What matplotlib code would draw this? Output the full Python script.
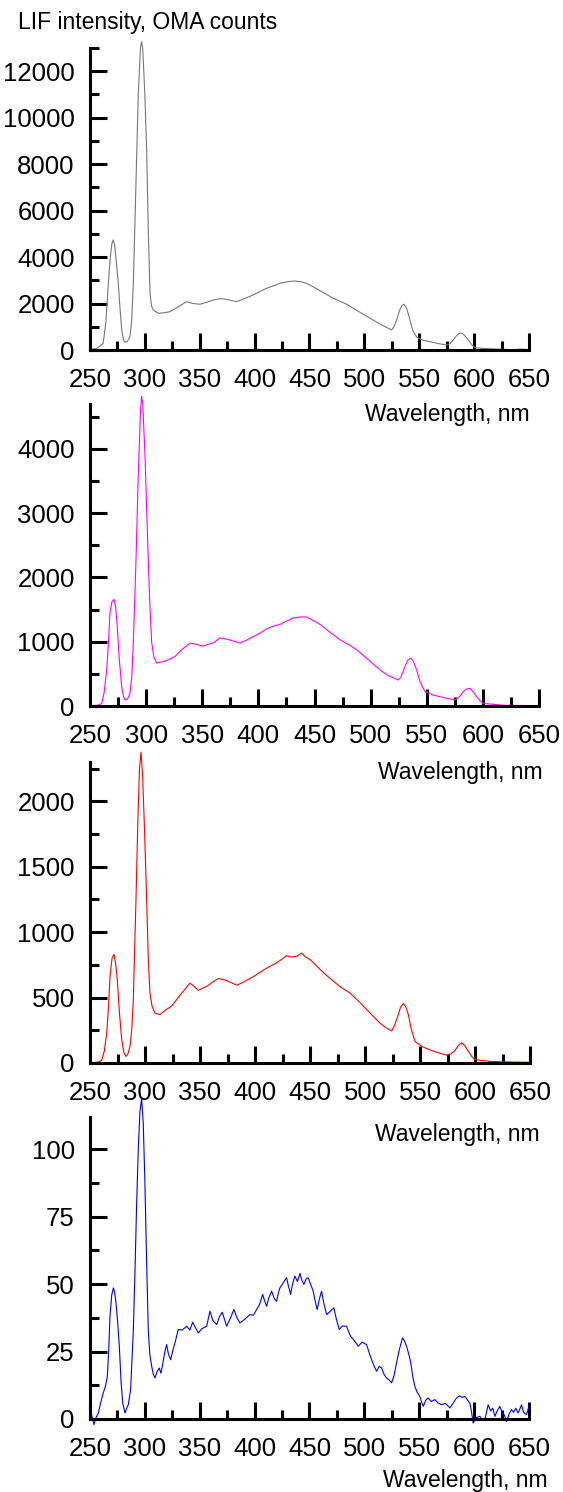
import numpy as np
import matplotlib.pyplot as plt
from matplotlib.ticker import MultipleLocator

plt.rcParams['font.family'] = ['Liberation Sans', 'DejaVu Sans']

# ------------------------------------------------------------
# spectra (wavelength nm, counts)
# ------------------------------------------------------------
wl_gray = [250, 256, 262, 264.5, 266.7, 268.5, 270, 271.2, 272.5, 274, 275.8, 277.5,
           278.9, 280.5, 281.9, 284, 286.4, 288, 289.5, 291.9, 294, 296, 297, 298,
           300, 301.6, 303.2, 304.7, 306, 307.7, 312.2, 317, 322.9, 330, 338.1, 344,
           350.2, 356, 362.4, 367, 371.5, 377, 383.6, 390, 398.8, 405, 411, 417,
           423.1, 430, 436.8, 442, 447.4, 455, 462.6, 472, 483.9, 494, 505.1, 515,
           524.9, 527, 529.4, 532, 534, 536.1, 538.5, 541.6, 544, 547.7, 553, 559.8,
           567, 575, 578, 581, 584, 586.5, 588.6, 591, 594.7, 598, 600.8, 607,
           614.5, 625, 635.7, 642, 650]
cnt_gray = [30, 60, 290, 1200, 2870, 4000, 4600, 4740, 4500, 3800, 2870, 1700,
            860, 450, 330, 370, 575, 1300, 2870, 7200, 11000, 13000, 13270, 13000,
            11000, 8620, 5000, 2440, 1900, 1720, 1580, 1600, 1650, 1850, 2080, 2000,
            1970, 2050, 2150, 2200, 2200, 2150, 2080, 2200, 2370, 2520, 2660, 2760,
            2870, 2940, 2970, 2940, 2870, 2680, 2470, 2220, 1970, 1680, 1370, 1100,
            860, 1000, 1290, 1700, 1900, 1970, 1800, 1290, 850, 550, 430, 360,
            280, 215, 280, 430, 620, 720, 730, 640, 430, 220, 100, 70,
            55, 30, 10, 40, 20]

wl_mag = [250, 258, 260.4, 262.5, 264.9, 266.5, 267.8, 269.5, 271.4, 272.8, 274.3, 276,
          278.2, 279.8, 281.2, 283.5, 285.6, 287.2, 288.6, 291, 293, 295, 296, 297,
          299, 301.9, 303.5, 305, 307, 309.4, 312, 315.3, 320, 325.7, 332, 339.1,
          345, 350.9, 355, 359.8, 365.8, 372, 378, 383.6, 390, 395.5, 401, 407.4,
          413, 419.3, 425, 431.1, 437, 443.1, 449, 454.9, 463, 472.7, 480, 487.6,
          498, 508.4, 516, 524.7, 527, 530.6, 533, 535.7, 538, 541, 544, 548.4,
          555, 561.8, 568, 575.2, 579, 582.6, 585.5, 588.5, 591.5, 594.5, 597.5, 600.4,
          610, 620, 635, 650]
cnt_mag = [0, 15, 40, 200, 560, 1000, 1450, 1620, 1660, 1550, 1240, 750,
           300, 150, 95, 110, 200, 450, 980, 2280, 3600, 4600, 4820, 4700,
           3900, 2280, 1500, 980, 760, 670, 680, 690, 720, 770, 880, 980,
           960, 930, 960, 980, 1060, 1040, 1010, 980, 1030, 1080, 1130, 1200,
           1240, 1270, 1320, 1370, 1385, 1385, 1330, 1270, 1160, 1030, 960, 875,
           720, 560, 470, 405, 450, 615, 710, 745, 700, 560, 380, 225,
           175, 145, 120, 95, 140, 225, 265, 275, 220, 145, 80, 40,
           25, 10, 8, 5]

wl_red = [250, 258, 260.6, 263, 265.2, 266.8, 268.2, 270, 271.8, 273.3, 274.8, 276.8,
          278.8, 280.8, 282.7, 284.5, 286.4, 288, 289.4, 291.8, 293.5, 295, 296.4, 297.8,
          299.5, 301.5, 303, 304.5, 306.5, 309.1, 313.6, 318, 324.3, 332, 340.9, 344,
          348.5, 352, 356.1, 361, 366.7, 370, 374.3, 378, 383.4, 390, 398.5, 404,
          410.6, 415, 419.7, 424, 428.8, 433, 437.9, 442.4, 446, 450, 455, 459.1,
          465, 471.2, 478, 486.4, 492, 498.5, 506, 513.6, 519, 524.3, 527, 530.3,
          532.5, 534.8, 537, 539.4, 542, 545.5, 552, 559.1, 566, 574.3, 578, 581.8,
          585, 587.9, 591, 593.9, 597, 600, 613.6, 630, 650]
cnt_red = [0, 8, 20, 90, 230, 430, 660, 800, 830, 760, 640, 380,
           180, 80, 50, 70, 130, 260, 485, 1250, 1850, 2250, 2375, 2200,
           1800, 1250, 800, 535, 430, 380, 370, 400, 435, 520, 610, 590,
           555, 570, 585, 615, 645, 640, 630, 615, 595, 620, 660, 690,
           725, 745, 765, 790, 820, 810, 815, 840, 810, 790, 750, 715,
           670, 625, 580, 535, 490, 435, 370, 305, 270, 245, 290, 370,
           430, 455, 430, 370, 260, 165, 125, 100, 80, 60, 70, 95,
           135, 155, 130, 90, 50, 25, 12, 8, 5]

wl_blue = [250, 251.8, 253.6, 255.5, 257.6, 260, 262.1, 264, 265.8, 267, 268.2, 269.8,
           271.3, 272.5, 273.7, 275.2, 276.7, 278.3, 279.8, 281.9, 283.4, 284.9, 287, 289.5,
           291, 292.5, 294, 295.5, 297, 298.5, 300, 301.5, 303.1, 304.5, 306.2, 307.7,
           309.2, 311, 313.1, 314.6, 316.2, 318, 319.8, 321.5, 323.5, 325.5, 327.4, 330.4,
           334, 338.1, 341, 343.5, 346, 348.7, 352, 356.3, 359.3, 362, 365.4, 368,
           370.5, 372.5, 374.5, 378, 381.1, 384, 386.6, 391, 395.7, 399, 401.8, 404.5,
           407.3, 409, 410.9, 413, 415.5, 418, 420, 421.5, 423, 426, 429.1, 431,
           432.8, 434.5, 436.7, 439, 441.3, 443, 444.9, 447, 448.8, 451, 453.4, 455,
           457, 459, 461, 463, 465.6, 469, 472.2, 474.5, 477.1, 480, 483.8, 485.5,
           487.4, 491, 494.4, 498, 502, 504, 506.6, 509, 511.1, 513.5, 515.7, 518,
           520.2, 522.5, 524.8, 527, 529.3, 532, 534.8, 536.5, 538.4, 540.5, 542.3, 544,
           546, 548, 550.5, 552, 553.6, 556, 558.1, 561, 564.2, 567, 570.3, 574,
           577.9, 581, 584, 587, 589, 591.5, 594, 596.1, 597.5, 599.1, 602, 605.2,
           607.5, 609.7, 611, 612.8, 615, 617, 618.9, 621, 623.4, 626, 627.5, 629.5,
           632, 634.1, 636, 638, 640.1, 641.5, 643.2, 645, 647.7, 650]
cnt_blue = [3.5, 1.0, -2.1, 0.5, 2.2, 6.5, 9.7, 12.0, 15.8, 25.0, 38.0, 46.0,
            48.6, 47.0, 43.0, 36.0, 27.0, 14.0, 5.9, 2.2, 4.0, 5.3, 10.9, 33.0,
            55.0, 80.0, 100.0, 114.0, 118.8, 110.0, 88.0, 60.0, 33.0, 24.0, 19.6, 16.5,
            15.2, 17.5, 18.9, 17.0, 20.2, 24.5, 27.6, 24.0, 22.0, 25.5, 28.2, 33.2,
            33.0, 34.4, 33.0, 35.9, 34.0, 31.9, 33.5, 34.4, 40.0, 36.5, 35.0, 38.0,
            39.6, 37.0, 34.4, 37.5, 40.6, 37.5, 35.6, 37.0, 38.7, 38.5, 40.6, 42.5,
            46.2, 44.0, 41.8, 45.0, 47.4, 44.5, 43.7, 46.5, 48.6, 50.5, 52.4, 49.0,
            46.2, 50.0, 53.0, 51.0, 54.0, 51.5, 49.9, 52.0, 52.4, 50.0, 47.4, 44.0,
            40.6, 44.5, 47.4, 43.0, 38.7, 40.0, 41.2, 37.0, 33.2, 34.5, 34.4, 32.5,
            30.7, 29.0, 27.0, 28.5, 27.6, 25.0, 22.0, 19.5, 17.7, 19.5, 18.9, 16.5,
            15.2, 14.5, 13.4, 16.0, 20.8, 26.0, 30.1, 29.0, 27.0, 24.0, 20.8, 16.0,
            12.1, 10.0, 8.4, 6.5, 4.7, 7.0, 7.8, 6.5, 7.2, 6.0, 5.3, 5.8,
            4.1, 6.0, 7.8, 8.6, 8.0, 8.4, 7.0, 5.9, 3.0, -1.5, 0.5, 1.0,
            -0.5, -0.2, 2.0, 5.3, 3.0, 4.0, 1.0, 3.0, 4.7, 2.0, 1.5, -0.9,
            2.0, 3.5, 2.5, 4.0, 2.2, 3.5, 5.3, 2.5, 1.6, 4.7]

spectra = [(wl_gray, cnt_gray, '#777777'),
           (wl_mag, cnt_mag, '#ff00ff'),
           (wl_red, cnt_red, '#ff0000'),
           (wl_blue, cnt_blue, '#0000ff')]
y_top = [13000, 4700, 2300, 112]
y_major = [2000, 1000, 500, 25]

# axes boxes in pixels (left, right, top, bottom) on a 563x1492 canvas
W, H = 563, 1492
boxes = [(90, 529, 48, 350), (90, 539, 404, 706), (90, 530, 762, 1063), (90, 529, 1117, 1419)]
# "Wavelength, nm" label offset from lower-right corner (px)
lab_off = [(1, -65), (4, -66), (10, -72), (19, -61)]

fig = plt.figure(figsize=(W / 100, H / 100), dpi=100)

for i, ((wl, cnt, col), (l, r, t, b)) in enumerate(zip(spectra, boxes)):
    ax = fig.add_axes([l / W, 1 - b / H, (r - l) / W, (b - t) / H])
    ax.patch.set_visible(False)
    ax.plot(wl, cnt, color=col, linewidth=0.8, clip_on=False)
    ax.set_xlim(250, 650)
    ax.set_ylim(0, y_top[i])
    ax.xaxis.set_major_locator(MultipleLocator(50))
    ax.xaxis.set_minor_locator(MultipleLocator(25))
    ax.yaxis.set_major_locator(MultipleLocator(y_major[i]))
    ax.yaxis.set_minor_locator(MultipleLocator(y_major[i] / 2))
    for s in ['top', 'right']:
        ax.spines[s].set_visible(False)
    for s in ['left', 'bottom']:
        ax.spines[s].set_linewidth(2.2)
    ax.tick_params(which='major', direction='in', length=12, width=2.2, labelsize=18.5)
    ax.tick_params(which='minor', direction='in', length=6.5, width=2.2)
    ax.tick_params(axis='y', pad=11)
    ax.tick_params(axis='x', pad=13)
    ox, oy = lab_off[i]
    ax.annotate('Wavelength, nm', xy=(1, 0), xycoords='axes fraction',
                xytext=(ox * 0.72, oy * 0.72), textcoords='offset points',
                ha='right', va='center', fontsize=16.5, annotation_clip=False)
    if i == 0:
        fig.text(18 / W, 1 - 22 / H, 'LIF intensity, OMA counts', fontsize=16.5,
                 ha='left', va='center')

fig.savefig('out.png', dpi=100)
